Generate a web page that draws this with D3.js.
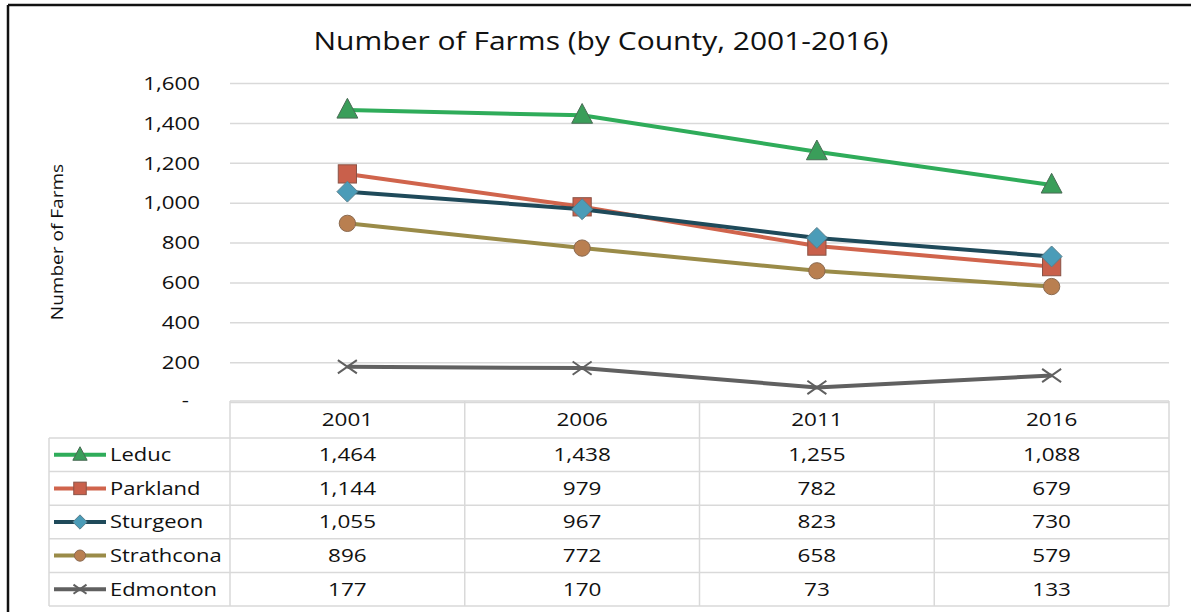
<!DOCTYPE html>
<html><head><meta charset="utf-8">
<script src="https://cdn.jsdelivr.net/npm/d3@7"></script>
<style>
html,body{margin:0;padding:0;background:#fff;}
svg text{font-family:"Open Sans","Noto Sans",sans-serif;fill:#111;}
</style></head>
<body><svg id="c" width="1191" height="612"></svg>
<script>
const years = ["2001","2006","2011","2016"];
const seriesNames = ["Leduc","Parkland","Sturgeon","Strathcona","Edmonton"];
const leduc = [1464,1438,1255,1088];
const parkland = [1144,979,782,679];
const sturgeon = [1055,967,823,730];
const strathcona = [896,772,658,579];
const edmonton = [177,170,73,133];
const yTicks = [0,200,400,600,800,1000,1200,1400,1600];
const chartTitle = "Number of Farms (by County, 2001-2016)";
const yTitle = "Number of Farms";

const values = [leduc,parkland,sturgeon,strathcona,edmonton];
const lineColors = ["#2fac5a","#d0644c","#1f4a5a","#9a8b48","#606060"];
const markerFill = ["#3a9e5a","#c9604b","#4b9cb8","#b97f50","#606060"];
const markerStroke = ["#4a6b55","#8a5346","#5a7f8c","#8a6a50","#606060"];
const markerType = ["triangle","square","diamond","circle","x"];

const svg = d3.select("#c");
const pLeft = 230, pRight = 1169, pTop = 83, pBottom = 402;
const x = d3.scaleBand().domain(years).range([pLeft,pRight]);
const y = d3.scaleLinear().domain([0,1600]).range([pBottom,pTop]);
const fmt = d3.format(",");
const SX = 1.25;

function stext(g, tx, ty, str, size, anchor, sx){
  return g.append("text")
    .attr("transform",`translate(${tx},${ty}) scale(${sx||SX},1)`)
    .attr("dy","0.35em").attr("text-anchor",anchor||"middle")
    .style("font-size",size+"px").text(str);
}

// outer border
svg.append("line").attr("x1",8).attr("x2",1191).attr("y1",5).attr("y2",5).attr("stroke","#111").attr("stroke-width",2.5);
svg.append("line").attr("x1",8).attr("x2",8).attr("y1",5).attr("y2",612).attr("stroke","#111").attr("stroke-width",2.5);

// title
svg.append("text").attr("transform","translate(601,50) scale(1.2,1)").attr("text-anchor","middle").style("font-size","25px").text(chartTitle);

// gridlines & y axis
const yAxis = d3.axisLeft(y).tickValues(yTicks).tickSize(-(pRight-pLeft)).tickFormat(d=> d===0 ? "-" : fmt(d));
const gy = svg.append("g").attr("transform",`translate(${pLeft},0)`).call(yAxis);
gy.select(".domain").remove();
gy.selectAll(".tick line").attr("stroke","#d9d9d9").attr("stroke-width",1.5);
gy.selectAll(".tick text").attr("x",null)
  .attr("transform",d=> d===0 ? "translate(-41,-2) scale(1.24,1)" : "translate(-30,0) scale(1.24,1)")
  .attr("dy","0.35em").style("font-size","18px").style("fill","#111");

svg.append("text").attr("transform",`translate(63,242) rotate(-90) scale(1.19,1)`).attr("text-anchor","middle").style("font-size","16px").text(yTitle);

// table
const rowTop = 438, rowH = 33.6;
const tLeft = 49;
const tg = svg.append("g");
const stroke = "#d9d9d9";
tg.append("line").attr("x1",pLeft).attr("x2",pRight).attr("y1",401).attr("y2",401).attr("stroke",stroke).attr("stroke-width",1.5);
for(let i=0;i<=seriesNames.length;i++){
  tg.append("line").attr("x1",tLeft).attr("x2",pRight).attr("y1",rowTop+i*rowH).attr("y2",rowTop+i*rowH).attr("stroke",stroke).attr("stroke-width",1.5);
}
const bounds = years.map(d=>x(d)).concat([pRight]);
bounds.forEach(bx=>{
  tg.append("line").attr("x1",bx).attr("x2",bx).attr("y1",401).attr("y2",rowTop+seriesNames.length*rowH).attr("stroke",stroke).attr("stroke-width",1.5);
});
tg.append("line").attr("x1",tLeft).attr("x2",tLeft).attr("y1",rowTop).attr("y2",rowTop+seriesNames.length*rowH).attr("stroke",stroke).attr("stroke-width",1.5);

years.forEach(yr=>{
  stext(tg, x(yr)+x.bandwidth()/2, (401+rowTop)/2, yr, 18, "middle");
});

function marker(g, type, cx, cy, i, s){
  if(type==="triangle"){
    g.append("path").attr("d",`M${cx},${cy-s*0.62}L${cx+s*0.55},${cy+s*0.42}L${cx-s*0.55},${cy+s*0.42}Z`).attr("fill",markerFill[i]).attr("stroke",markerStroke[i]).attr("stroke-width",1);
  } else if(type==="square"){
    g.append("rect").attr("x",cx-s*0.48).attr("y",cy-s*0.48).attr("width",s*0.96).attr("height",s*0.96).attr("fill",markerFill[i]).attr("stroke",markerStroke[i]).attr("stroke-width",1);
  } else if(type==="diamond"){
    g.append("path").attr("d",`M${cx},${cy-s*0.55}L${cx+s*0.55},${cy}L${cx},${cy+s*0.55}L${cx-s*0.55},${cy}Z`).attr("fill",markerFill[i]).attr("stroke",markerStroke[i]).attr("stroke-width",1);
  } else if(type==="circle"){
    g.append("circle").attr("cx",cx).attr("cy",cy).attr("r",s*0.43).attr("fill",markerFill[i]).attr("stroke",markerStroke[i]).attr("stroke-width",1);
  } else {
    const r = s*0.5;
    g.append("path").attr("d",`M${cx-r},${cy-r*0.7}L${cx+r},${cy+r*0.7}M${cx-r},${cy+r*0.7}L${cx+r},${cy-r*0.7}`).attr("stroke",markerFill[i]).attr("stroke-width",2).attr("fill","none");
  }
}

seriesNames.forEach((name,i)=>{
  const cy = rowTop + i*rowH + rowH/2;
  tg.append("line").attr("x1",54).attr("x2",106).attr("y1",cy).attr("y2",cy).attr("stroke",lineColors[i]).attr("stroke-width",4);
  marker(tg, markerType[i], 80, cy, i, 13);
  stext(tg, 110, cy, name, 18, "start", 1.22);
  values[i].forEach((v,j)=>{
    stext(tg, x(years[j])+x.bandwidth()/2, cy, fmt(v), 18, "middle");
  });
});

const line = d3.line().x((d,j)=>x(years[j])+x.bandwidth()/2).y(d=>y(d));
values.forEach((vals,i)=>{
  const g = svg.append("g");
  g.append("path").datum(vals).attr("d",line).attr("fill","none").attr("stroke",lineColors[i]).attr("stroke-width",4).attr("stroke-linejoin","round");
  vals.forEach((v,j)=>marker(g, markerType[i], x(years[j])+x.bandwidth()/2, y(v), i, 19));
});
</script></body></html>
